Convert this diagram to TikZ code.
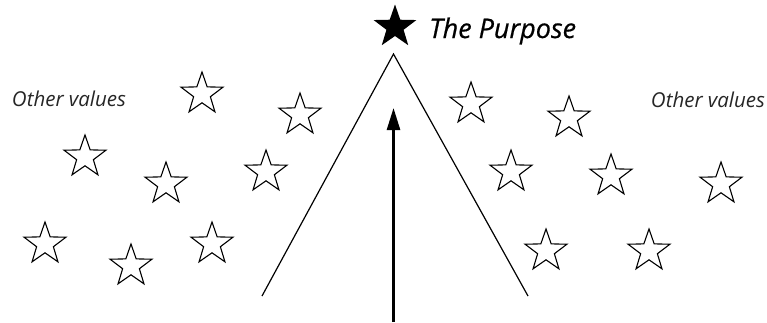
\documentclass[tikz,border=0pt]{standalone}
\usepackage{fontspec}
\setmainfont{Open Sans}
\usetikzlibrary{shapes.geometric,arrows.meta}
\begin{document}
\begin{tikzpicture}[x=1pt,y=-1pt,
  value/.style={star,star points=5,star point ratio=2.5,minimum size=44pt,inner sep=0pt,draw=black,line width=1.1pt,fill=white},
  purpose/.style={star,star points=5,star point ratio=2.5,minimum size=45pt,inner sep=0pt,fill=black},
  vlabel/.style={font=\fontsize{20.5}{24}\selectfont\itshape,text=black!85,inner sep=0pt},
  plabel/.style={font=\fontsize{27}{31}\selectfont\itshape\addfontfeature{FakeBold=0.6},inner sep=0pt,anchor=west},
  side/.style={line width=1.2pt},
  aim/.style={line width=2.6pt,-{Triangle[length=22pt,width=13pt]}}]
\useasboundingbox (0,0) rectangle (767,322);
% labels
\node[purpose] (goal) at (395,27) {};
\node[plabel] (goaltext) at (429,31) {The Purpose};
\node[vlabel] (otherL) at (69,99) {Other values};
\node[vlabel] (otherR) at (708,100) {Other values};
% left stars
\node[value] (l1) at (202,94) {};
\node[value] (l2) at (300,115) {};
\node[value] (l3) at (85,157) {};
\node[value] (l4) at (166,184) {};
\node[value] (l5) at (266,172) {};
\node[value] (l6) at (45,244) {};
\node[value] (l7) at (131,266) {};
\node[value] (l8) at (212,244) {};
% right stars
\node[value] (r1) at (471,104) {};
\node[value] (r2) at (569,118) {};
\node[value] (r3) at (511,172) {};
\node[value] (r4) at (611,176) {};
\node[value] (r5) at (721,184) {};
\node[value] (r6) at (546,251) {};
\node[value] (r7) at (649,251) {};
% the cone
\coordinate (apex) at (393.5,54);
\coordinate (baseL) at (262,296);
\coordinate (baseR) at (528,296);
\draw[side,line join=miter] (baseL) -- (apex) -- (baseR);
% the arrow
\coordinate (start) at (393.5,322);
\coordinate (tip) at (393.5,108);
\draw[aim] (start) -- (tip);
\end{tikzpicture}
\end{document}
